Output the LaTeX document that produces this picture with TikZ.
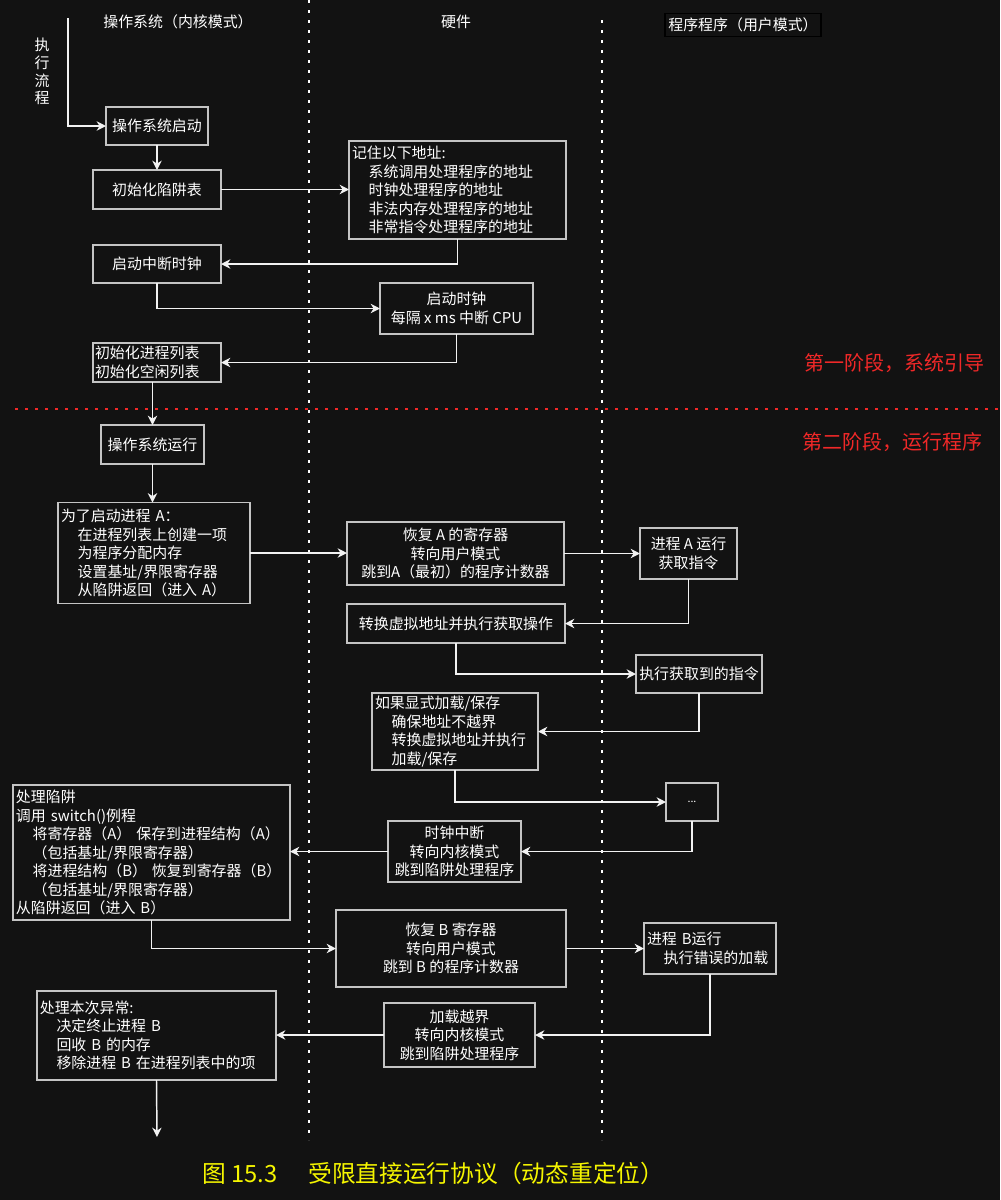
\documentclass[tikz,border=0pt]{standalone}
\usepackage{fontspec}
\setmainfont{Noto Sans CJK SC}
\usetikzlibrary{arrows.meta}
\definecolor{bg}{HTML}{121212}
\definecolor{boxgray}{HTML}{C4C4C4}
\definecolor{linew}{HTML}{F2F2F2}
\definecolor{phasered}{HTML}{F02828}
\definecolor{capyellow}{HTML}{F5F500}
\begin{document}
\begin{tikzpicture}[x=0.75pt,y=-0.75pt,
  txt/.style={text=white, font=\fontsize{11.2pt}{13.9pt}\selectfont},
  box/.style={txt, draw=boxgray, line width=1.1pt, inner sep=0pt, outer sep=0pt, align=center},
  wh/.style 2 args={minimum width=#1*0.75pt, minimum height=#2*0.75pt},
  lbox/.style={align=left, text width=#1},
  arr/.style={draw=linew, line width=1.1pt, -{Stealth[length=7pt,width=7pt,inset=2.2pt]}},
  vdots/.style={draw=white, line width=2.2pt, dash pattern=on 2.2pt off 5.3pt},
  hdots/.style={draw=phasered, line width=2.2pt, dash pattern=on 2.2pt off 5.3pt},
  phase/.style={text=phasered, font=\fontsize{15pt}{18pt}\selectfont, anchor=west, inner sep=0pt},
  head/.style={txt, inner sep=0pt}
]
\def\ind{\hspace*{12.5pt}}
% canvas
\fill[bg] (0,0) rectangle (1000,1200);
\useasboundingbox (0,0) rectangle (1000,1200);

% lane separators
\draw[vdots] (309,0) -- (309,1140);
\draw[vdots] (602,20) -- (602,1140);
% phase separator
\draw[hdots] (15,409) -- (1000,409);

% lane headings
\node[head] (hos) at (178,22) {操作系统（内核模式）};
\node[head] (hhw) at (456,22) {硬件};
\node[txt, draw=black, line width=1pt, inner sep=0pt, wh={156}{23}] (hus) at (743,25) {程序程序（用户模式）};

% execution flow label
\node[head] (f1) at (42,45) {执};
\node[head] (f2) at (42,62.7) {行};
\node[head] (f3) at (42,80.4) {流};
\node[head] (f4) at (42,98) {程};

% phase labels
\node[phase] (p1) at (804,363) {第一阶段，系统引导};
\node[phase] (p2) at (802,442) {第二阶段，运行程序};

% ---------- phase one: boot ----------
\node[box, wh={102}{38}] (b1) at (157,126) {操作系统启动};
\node[box, wh={128}{39}] (b2) at (157,189.5) {初始化陷阱表};
\node[box, wh={217}{98}, lbox=158.25pt] (b3) at (457.5,190)
  {记住以下地址:\\
   \ind 系统调用处理程序的地址\\
   \ind 时钟处理程序的地址\\
   \ind 非法内存处理程序的地址\\
   \ind 非常指令处理程序的地址};
\node[box, wh={128}{38}] (b4) at (157,264) {启动中断时钟};
\node[box, wh={153}{51}] (b5) at (456.5,308.5) {启动时钟\\每隔 x ms 中断 CPU};
\node[box, wh={128}{39}, lbox=93pt] (b6) at (157,362.5) {初始化进程列表\\初始化空闲列表};

% ---------- phase two: running programs ----------
\node[box, wh={103}{39}] (b7) at (152.5,444.5) {操作系统运行};
\node[box, wh={192}{101}, lbox=139.5pt] (b8) at (154,553)
  {为了启动进程 A：\\
   \ind 在进程列表上创建一项\\
   \ind 为程序分配内存\\
   \ind 设置基址/界限寄存器\\
   \ind 从陷阱返回（进入 A）};
\node[box, wh={217}{63}] (b9) at (455.5,553.5) {恢复 A 的寄存器\\转向用户模式\\跳到A（最初）的程序计数器};
\node[box, wh={97}{51}] (b10) at (688.5,553.5) {进程 A 运行\\获取指令};
\node[box, wh={218}{39}] (b11) at (456,623.5) {转换虚拟地址并执行获取操作};
\node[box, wh={126}{38}] (b12) at (699,674) {执行获取到的指令};
\node[box, wh={166}{77}, lbox=120pt] (b13) at (455,731.5)
  {如果显式加载/保存\\
   \ind 确保地址不越界\\
   \ind 转换虚拟地址并执行\\
   \ind 加载/保存};
\node[box, wh={52}{38}, font=\fontsize{8pt}{10pt}\selectfont] (b14) at (692,802) {...};
\node[box, wh={133}{61}] (b15) at (454.5,851.5) {时钟中断\\转向内核模式\\跳到陷阱处理程序};
\node[box, wh={277}{135}, lbox=203.25pt] (b16) at (151.5,852.5)
  {处理陷阱\\
   调用 switch()例程\\
   \ind 将寄存器（A） 保存到进程结构（A）\\
   \ind （包括基址/界限寄存器）\\
   \ind 将进程结构（B） 恢复到寄存器（B）\\
   \ind （包括基址/界限寄存器）\\
   从陷阱返回（进入 B）};
\node[box, wh={230}{77}] (b17) at (451,948.5) {恢复 B 寄存器\\转向用户模式\\跳到 B 的程序计数器};
\node[box, wh={132}{51}, lbox=94.5pt] (b18) at (710,948.5) {进程 B运行\\\ind 执行错误的加载};
\node[box, wh={151}{64}] (b19) at (459.5,1035) {加载越界\\转向内核模式\\跳到陷阱处理程序};
\node[box, wh={239}{89}, lbox=175pt] (b20) at (156.5,1035.5)
  {处理本次异常:\\
   \ind 决定终止进程 B\\
   \ind 回收 B 的内存\\
   \ind 移除进程 B 在进程列表中的项};

% caption
\node[text=capyellow, font=\fontsize{17.8pt}{21pt}\selectfont, anchor=west, inner sep=0pt] (cap) at (202,1173)
  {图 15.3\hspace{1.3em}受限直接运行协议（动态重定位）};

% ---------- connectors ----------
\coordinate (start) at (68,18);
\coordinate (finish) at (157,1137);
\draw[arr] (start) |- (b1.west);
\draw[arr] (b1.south) -- (b2.north);
\draw[arr] (b2.east) -- (b2.east -| b3.west);
\draw[arr] (b3.south) |- (b4.east);
\draw[arr] (b4.south) |- (b5.west);
\draw[arr] (b5.south) |- (b6.east);
\draw[arr] (b7.north |- b6.south) -- (b7.north);
\draw[arr] (b7.south) -- (b7.south |- b8.north);
\draw[arr] (b8.east) -- (b8.east -| b9.west);
\draw[arr] (b9.east) -- (b10.west);
\draw[arr] (b10.south) |- (b11.east);
\draw[arr] (b11.south) |- (b12.west);
\draw[arr] (b12.south) |- (b13.east);
\draw[arr] (b13.south) |- (b14.west);
\draw[arr] (b14.south) |- (b15.east);
\draw[arr] (b15.west) -- (b15.west -| b16.east);
\draw[arr] (b16.south) |- (b17.west);
\draw[arr] (b17.east) -- (b17.east -| b18.west);
\draw[arr] (b18.south) |- (b19.east);
\draw[arr] (b19.west) -- (b19.west -| b20.east);
\draw[arr] (b20.south) -- (finish);
\end{tikzpicture}
\end{document}
